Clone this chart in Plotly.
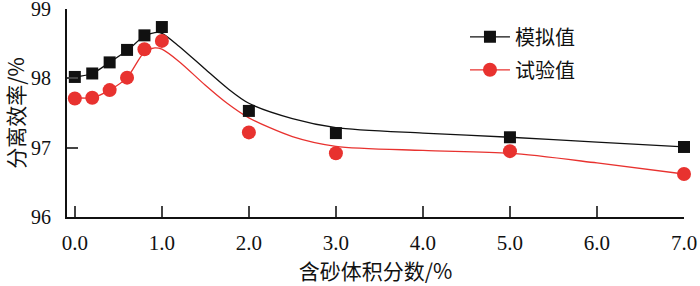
import plotly.graph_objects as go

# measured points
x_pts = [0.0, 0.2, 0.4, 0.6, 0.8, 1.0, 2.0, 3.0, 5.0, 7.0]
sim_vals = [98.02, 98.07, 98.23, 98.41, 98.62, 98.74, 97.53, 97.21, 97.15, 97.01]
exp_vals = [97.71, 97.72, 97.83, 98.01, 98.42, 98.54, 97.22, 96.92, 96.95, 96.62]

# fitted curves
x_fit = [0.0, 0.2, 0.4, 0.6, 0.8, 0.92, 1.0, 1.2, 1.5, 1.75, 2.0, 2.5, 3.0, 4.0, 5.0, 6.0, 7.0]
sim_fit = [98.02, 98.07, 98.23, 98.40, 98.61, 98.66, 98.65, 98.46, 98.13, 97.86, 97.64, 97.42, 97.29, 97.21, 97.15, 97.08, 97.01]
exp_fit = [97.72, 97.72, 97.83, 98.01, 98.38, 98.44, 98.42, 98.24, 97.90, 97.64, 97.43, 97.16, 97.02, 96.96, 96.92, 96.78, 96.62]

x_ticks = [0, 1, 2, 3, 4, 5, 6, 7]
x_tick_text = ["0.0", "1.0", "2.0", "3.0", "4.0", "5.0", "6.0", "7.0"]
y_ticks = [96, 97, 98, 99]

names = ["模拟值", "试验值"]
BLACK = "#111111"
RED = "#e8322f"

fig = go.Figure()
fig.add_trace(go.Scatter(x=x_fit, y=sim_fit, mode="lines", line=dict(color=BLACK, width=1.3, shape="spline", smoothing=0.8),
                         showlegend=False, hoverinfo="skip"))
fig.add_trace(go.Scatter(x=x_fit, y=exp_fit, mode="lines", line=dict(color=RED, width=1.3, shape="spline", smoothing=0.8),
                         showlegend=False, hoverinfo="skip"))
fig.add_trace(go.Scatter(x=x_pts, y=sim_vals, mode="markers", marker=dict(symbol="square", size=12, color=BLACK),
                         showlegend=False, cliponaxis=False))
fig.add_trace(go.Scatter(x=x_pts, y=exp_vals, mode="markers", marker=dict(symbol="circle", size=14, color=RED),
                         showlegend=False, cliponaxis=False))
# legend entries
fig.add_trace(go.Scatter(x=[None], y=[None], mode="lines+markers", name=names[0], legendgroup="a",
                         line=dict(color=BLACK, width=1.3), marker=dict(symbol="square", size=12, color=BLACK)))
fig.add_trace(go.Scatter(x=[None], y=[None], mode="lines+markers", name=names[1], legendgroup="b",
                         line=dict(color=RED, width=1.3), marker=dict(symbol="circle", size=14, color=RED)))

serif = "Liberation Serif"
cjk = "Noto Sans CJK SC"
fig.update_layout(
    width=700, height=286,
    margin=dict(l=67, r=16, t=9, b=69, autoexpand=False),
    paper_bgcolor="white", plot_bgcolor="white",
    font=dict(family=serif, size=20, color="#111"),
    legend=dict(x=0.645, y=0.96, xanchor="left", yanchor="top", bgcolor="rgba(0,0,0,0)",
                font=dict(family=cjk, size=20), itemwidth=40, traceorder="grouped", tracegroupgap=4),
    xaxis=dict(range=[-0.09, 7.0], tickvals=x_ticks, ticktext=x_tick_text, ticks="inside", ticklen=11,
               tickwidth=1.8, showline=True, linewidth=2, linecolor="#111", showgrid=False, zeroline=False,
               automargin=False,
               tickfont=dict(family=serif, size=21), ticklabeloverflow="allow", ticklabelstandoff=6,
               title=dict(text="含砂体积分数/%", font=dict(family=cjk, size=21), standoff=6)),
    yaxis=dict(range=[96, 99], tickvals=y_ticks, ticks="inside", ticklen=11, tickwidth=1.8,
               showline=True, linewidth=2, linecolor="#111", showgrid=False, zeroline=False,
               automargin=False,
               tickfont=dict(family=serif, size=20), ticklabeloverflow="allow", ticklabelstandoff=10,
               title=dict(text="分离效率/%", font=dict(family=cjk, size=21), standoff=10)),
)
fig.write_html("out.html", config={"displayModeBar": False},
               post_script="document.body.style.margin='0';")
